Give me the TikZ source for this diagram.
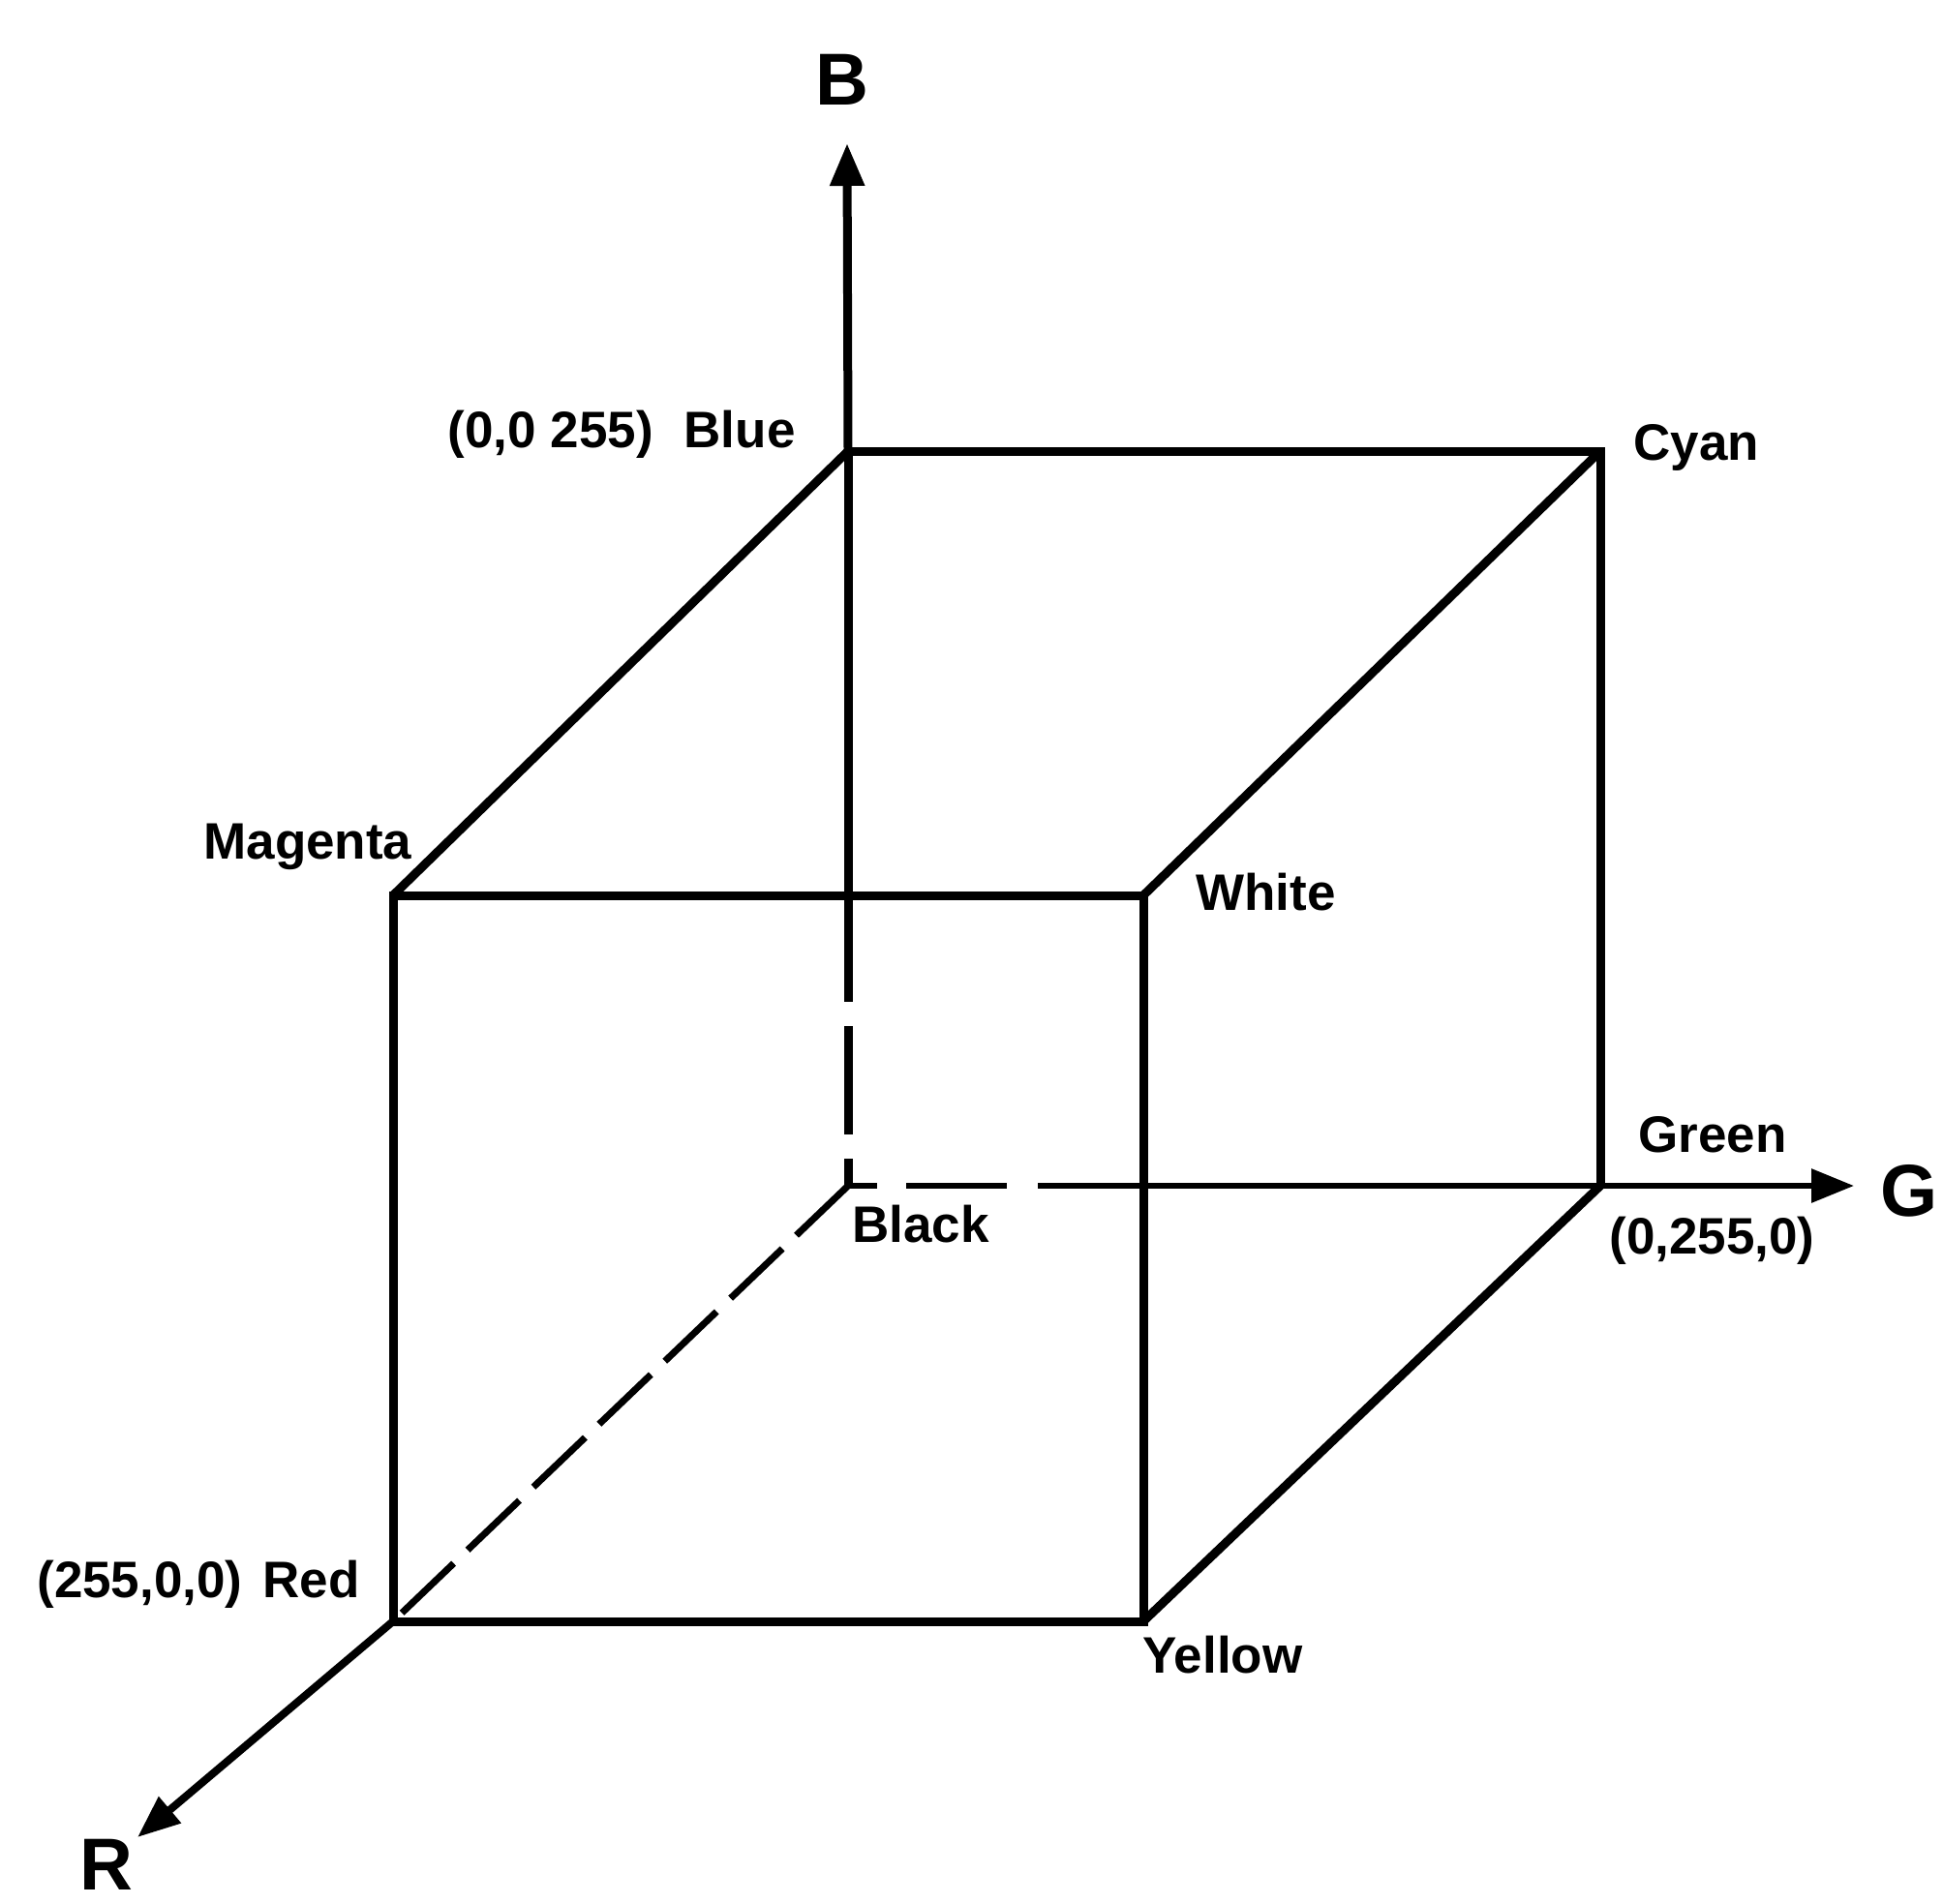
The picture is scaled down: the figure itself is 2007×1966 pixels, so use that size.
\documentclass[tikz,border=0pt]{standalone}
\usepackage{fontspec}
\setmainfont{Liberation Sans}
\usetikzlibrary{arrows.meta}
\begin{document}
\begin{tikzpicture}[x=0.5pt,y=-0.5pt,
  edge/.style={line width=4.5pt, line join=miter},
  thinedge/.style={line width=3pt},
  lbl/.style={font=\fontsize{26.5}{30}\selectfont\bfseries, inner sep=0pt, anchor=base west},
  axlbl/.style={font=\fontsize{38}{42}\selectfont\bfseries, inner sep=0pt, anchor=base west},
  tipstyle/.style={-{Triangle[length=22pt,width=17pt]}}]
\useasboundingbox (0,0) rectangle (2007,1966);
% corners
\coordinate (black) at (876,1225);
\coordinate (blue) at (876,466);
\coordinate (cyan) at (1653,466);
\coordinate (green) at (1653,1225);
\coordinate (magenta) at (406,925);
\coordinate (white) at (1181,925);
\coordinate (red) at (406,1675);
\coordinate (yellow) at (1181,1675);
% axis ends
\coordinate (btip) at (875,148);
\coordinate (gtip) at (1915,1225);
\coordinate (rtip) at (142,1898);
\coordinate (bsolid) at (876,1035);
% hidden edges
\draw[line width=3.5pt, dash pattern=on 37pt off 10pt] (black) -- (red);
\draw[edge, dash pattern=on 0pt off 12.5pt on 56pt off 12.5pt on 20pt] (bsolid) -- (black);
\draw[thinedge, tipstyle, dash pattern=on 15pt off 15pt on 52pt off 16pt on 2000pt] (black) -- (gtip);
% visible edges
\draw[edge] (magenta) rectangle (yellow);
\draw[edge] (blue) -- (cyan) -- (green);
\draw[edge] (magenta) -- (blue);
\draw[edge] (white) -- (cyan);
\draw[edge] (yellow) -- (green);
\draw[edge] (blue) -- (bsolid);
\draw[edge, tipstyle] (blue) -- (btip);
\draw[line width=4pt, tipstyle] (red) -- (rtip);
% labels
\node[axlbl] (lB) at (842,108) {B};
\node[axlbl] (lG) at (1942,1256) {G};
\node[axlbl] (lR) at (82,1952) {R};
\node[lbl, anchor=base east] (lblue) at (822,462) {(0,0 255)\hspace{0.6em}Blue};
\node[lbl] (lcyan) at (1687,475) {Cyan};
\node[lbl] (lmagenta) at (210,887) {Magenta};
\node[lbl] (lwhite) at (1235,940) {White};
\node[lbl] (lblack) at (880,1283) {Black};
\node[lbl] (lgreen) at (1692,1190) {Green};
\node[lbl] (lgreenc) at (1662,1295) {(0,255,0)};
\node[lbl] (lred) at (38,1650) {(255,0,0)\hspace{0.4em}Red};
\node[lbl] (lyellow) at (1180,1728) {Yellow};
\end{tikzpicture}
\end{document}
